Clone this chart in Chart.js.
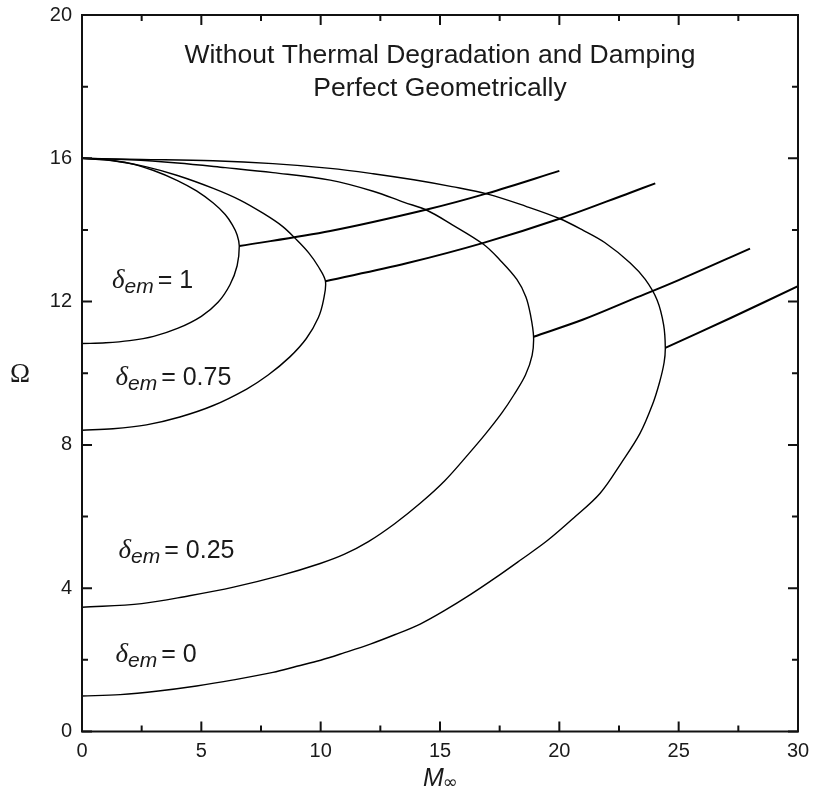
<!DOCTYPE html>
<html lang="en">
<head>
<meta charset="UTF-8">
<title>Ω vs M∞ without thermal degradation and damping</title>
<style>
  html, body { margin: 0; padding: 0; background: #fff; }
  #wrap { width: 816px; height: 790px; }
</style>
<script src="https://cdn.jsdelivr.net/npm/chart.js"></script>
</head>
<body>
<div id="wrap"><canvas id="omegaChart" width="816" height="790"></canvas></div>
<script>
// closed curves [M, Omega]: from Omega = 16 at M = 0 round the turning point back to M = 0
const loopD1 = [
  [0, 16], [1, 15.96], [2, 15.86], [3, 15.66], [4, 15.38], [4.8, 15.09], [5.5, 14.75],
  [6.0, 14.43], [6.3, 14.14], [6.5, 13.86], [6.59, 13.55],
  [6.5, 13.0], [6.2, 12.47], [5.7, 11.98], [5.0, 11.59], [4.0, 11.25], [3.0, 11.03],
  [2.0, 10.91], [1.0, 10.85], [0, 10.83]
];
const loopD075 = [
  [0, 16], [1.3, 15.93], [2.7, 15.76], [4.0, 15.52], [5.5, 15.16], [6.6, 14.84],
  [7.6, 14.46], [8.4, 14.1], [9.0, 13.72], [9.5, 13.36], [9.9, 12.98], [10.2, 12.57],
  [10.12, 12.05], [9.9, 11.55], [9.4, 10.97], [8.7, 10.45], [7.8, 9.95], [6.9, 9.56],
  [5.5, 9.1], [4.1, 8.78], [2.7, 8.56], [1.3, 8.45], [0, 8.41]
];
const loopD025 = [
  [0, 16], [2, 15.96], [4, 15.87], [6, 15.74], [8, 15.6], [10.4, 15.39], [12.2, 15.08],
  [13.5, 14.77], [14.45, 14.55], [15.5, 14.15], [16.82, 13.6], [17.5, 13.17],
  [18.22, 12.62], [18.6, 12.13], [18.8, 11.6], [18.92, 11.02],
  [18.86, 10.5], [18.58, 9.95], [18.1, 9.4], [17.6, 8.9], [16.9, 8.3], [16.2, 7.75],
  [15.2, 7.0], [14.17, 6.37], [13.1, 5.8], [12.0, 5.3], [11.0, 4.95], [9.98, 4.69],
  [8.3, 4.35], [6.35, 4.03], [4.5, 3.79], [2.5, 3.57], [0, 3.47]
];
const loopD0 = [
  [0, 16], [2.5, 15.97], [5.5, 15.93], [8, 15.85], [10.4, 15.72], [12.2, 15.57],
  [13.9, 15.4], [15.5, 15.21], [17, 15.0], [18.6, 14.66], [20, 14.32], [21, 13.99],
  [21.9, 13.65], [22.97, 13.08], [23.6, 12.62], [24.1, 12.04], [24.37, 11.35],
  [24.44, 10.71],
  [24.39, 10.3], [24.2, 9.75], [23.9, 9.12], [23.38, 8.32], [22.6, 7.5], [21.71, 6.65],
  [20.6, 5.96], [19.5, 5.33], [18.36, 4.78], [17.3, 4.28], [16.27, 3.82], [15.2, 3.38],
  [14.17, 3.0], [13.1, 2.7], [12.08, 2.44], [11, 2.2], [10, 1.99], [9, 1.82], [8, 1.65],
  [6.35, 1.44], [4.8, 1.27], [3.2, 1.13], [1.6, 1.03], [0, 0.99]
];

// branches leaving each turning point
const branchD1 = [[6.59, 13.55], [10.4, 13.97], [14.45, 14.57], [16.97, 15.02], [20.0, 15.65]];
const branchD075 = [[10.2, 12.57], [13.6, 13.07], [16.82, 13.64], [20.04, 14.32], [22.97, 15.04], [24.02, 15.3]];
const branchD025 = [[18.92, 11.02], [21, 11.5], [22.97, 12.04], [25, 12.6], [27.99, 13.48]];
const branchD0 = [[24.44, 10.71], [27.2, 11.55], [30, 12.43]];

// axis ticks
const xMajor = [0, 5, 10, 15, 20, 25, 30];
const xMinor = [2.5, 7.5, 12.5, 17.5, 22.5, 27.5];
const yMajor = [0, 4, 8, 12, 16, 20];
const yMinor = [2, 6, 10, 14, 18];

// curve labels: delta value and where the label sits [M, Omega]
const deltaLabels = ['1', '0.75', '0.25', '0'];
const deltaAnchors = [[1.26, 12.39], [1.40, 9.67], [1.53, 4.83], [1.40, 1.95]];
const titleLines = ['Without Thermal Degradation and Damping', 'Perfect Geometrically'];

const INK = '#1a1a1a';
const SANS = '"Liberation Sans", Arial, sans-serif';
const SERIF = '"Liberation Serif", "Times New Roman", serif';

function toXY(arr) {
  return arr.map(p => ({ x: p[0], y: p[1] }));
}

function line(data, width) {
  return {
    data: toXY(data),
    showLine: true,
    borderColor: '#000',
    borderWidth: width,
    pointRadius: 0,
    tension: 0.35,
    fill: false
  };
}

// frame and inward ticks on all four sides
const frameTicks = {
  id: 'frameTicks',
  afterDatasetsDraw(chart) {
    const { ctx, chartArea: a, scales: { x, y } } = chart;
    ctx.save();
    ctx.strokeStyle = '#111';
    ctx.lineWidth = 2;
    ctx.beginPath();
    const xt = (vals, len) => vals.forEach(v => {
      const p = x.getPixelForValue(v);
      ctx.moveTo(p, a.bottom); ctx.lineTo(p, a.bottom - len);
      ctx.moveTo(p, a.top); ctx.lineTo(p, a.top + len);
    });
    const yt = (vals, len) => vals.forEach(v => {
      const p = y.getPixelForValue(v);
      ctx.moveTo(a.left, p); ctx.lineTo(a.left + len, p);
      ctx.moveTo(a.right, p); ctx.lineTo(a.right - len, p);
    });
    xt(xMajor, 10); xt(xMinor, 6);
    yt(yMajor, 10); yt(yMinor, 6);
    ctx.stroke();
    ctx.strokeRect(a.left, a.top, a.right - a.left, a.bottom - a.top);
    ctx.restore();
  }
};

function drawDelta(ctx, x0, base, val) {
  ctx.textAlign = 'left';
  ctx.textBaseline = 'alphabetic';
  ctx.font = 'italic 27px ' + SERIF;
  ctx.fillText('δ', x0, base);
  let x1 = x0 + ctx.measureText('δ').width;
  ctx.font = 'italic 21px ' + SANS;
  ctx.fillText('em', x1, base + 5);
  x1 += ctx.measureText('em').width + 4;
  ctx.font = '25px ' + SANS;
  ctx.fillText('= ' + val, x1, base);
}

const annotations = {
  id: 'annotations',
  afterDraw(chart) {
    const { ctx, chartArea: a, scales: { x, y } } = chart;
    ctx.save();
    ctx.fillStyle = INK;

    // title inside the plot
    ctx.textAlign = 'center';
    ctx.textBaseline = 'alphabetic';
    ctx.font = '26.5px ' + SANS;
    ctx.fillText(titleLines[0], x.getPixelForValue(15), y.getPixelForValue(18.65));
    ctx.fillText(titleLines[1], x.getPixelForValue(15), y.getPixelForValue(17.74));

    deltaLabels.forEach((v, i) => {
      const [m, o] = deltaAnchors[i];
      drawDelta(ctx, x.getPixelForValue(m), y.getPixelForValue(o), v);
    });

    // axis titles
    ctx.textAlign = 'center';
    ctx.textBaseline = 'middle';
    ctx.font = '27px ' + SERIF;
    ctx.fillText('Ω', 20, (a.top + a.bottom) / 2 + 2);

    ctx.textAlign = 'left';
    ctx.textBaseline = 'alphabetic';
    ctx.font = 'italic 25px ' + SANS;
    const mx = (a.left + a.right) / 2 - 17;
    ctx.fillText('M', mx, 786);
    const mw = ctx.measureText('M').width;
    ctx.font = '18px "DejaVu Sans", sans-serif';
    ctx.fillText('∞', mx + mw - 1, 788);
    ctx.restore();
  }
};

new Chart(document.getElementById('omegaChart'), {
  type: 'scatter',
  data: {
    datasets: [
      line(loopD1, 1.4), line(loopD075, 1.4), line(loopD025, 1.4), line(loopD0, 1.4),
      line(branchD1, 2), line(branchD075, 2), line(branchD025, 2), line(branchD0, 2)
    ]
  },
  options: {
    responsive: false,
    animation: false,
    devicePixelRatio: 1,
    layout: { padding: { left: 0, right: 18, top: 15, bottom: 0 } },
    plugins: {
      legend: { display: false },
      tooltip: { enabled: false },
      title: { display: false }
    },
    scales: {
      x: {
        type: 'linear',
        min: 0, max: 30,
        grid: { display: false },
        border: { display: false },
        ticks: { stepSize: 5, color: INK, padding: 0, font: { family: SANS, size: 20 } },
        afterFit(s) { s.height = 58.5; s.paddingLeft = 0; s.paddingRight = 0; }
      },
      y: {
        type: 'linear',
        min: 0, max: 20,
        grid: { display: false },
        border: { display: false },
        ticks: { stepSize: 4, color: INK, padding: 2, font: { family: SANS, size: 20 } },
        afterFit(s) { s.width = 82; s.paddingTop = 0; s.paddingBottom = 0; }
      }
    }
  },
  plugins: [frameTicks, annotations]
});
</script>
</body>
</html>
